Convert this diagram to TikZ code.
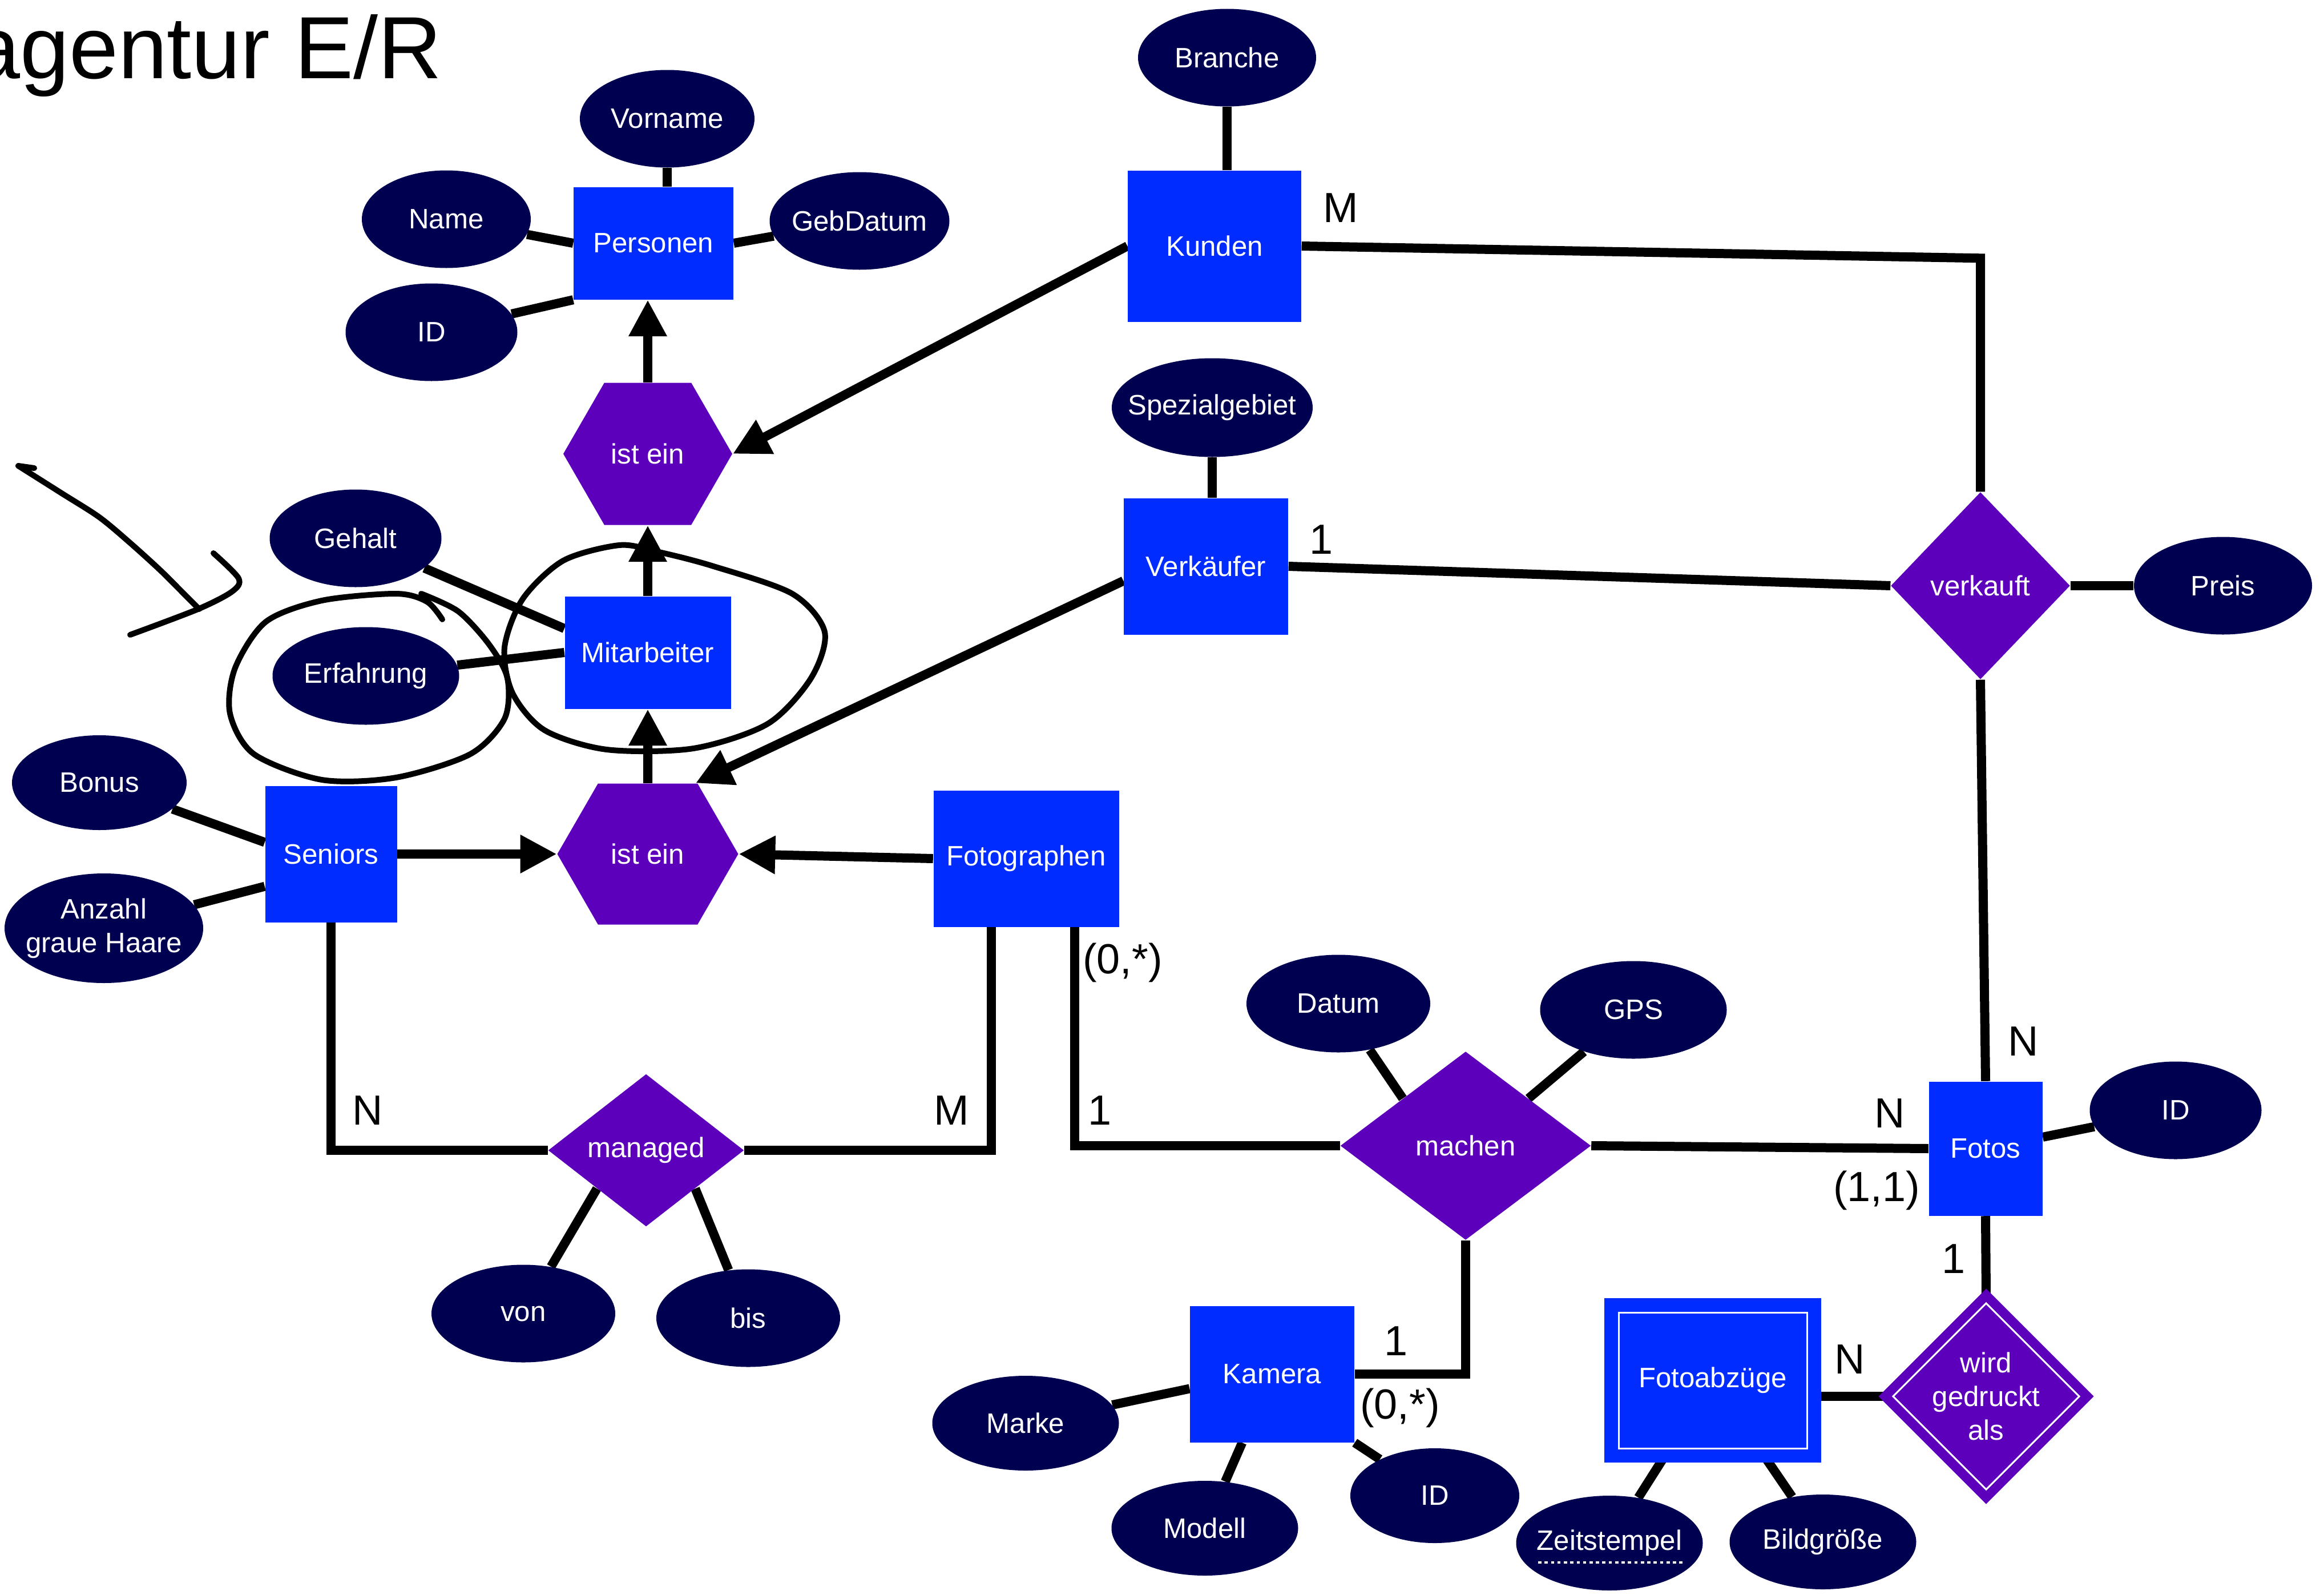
\documentclass[tikz,border=0pt]{standalone}
\usepackage{fontspec}
\setmainfont{Liberation Sans}
\usepackage{tikz}
\usetikzlibrary{shapes,arrows.meta}
\definecolor{attrnavy}{RGB}{0,0,80}
\definecolor{entblue}{RGB}{0,44,255}
\definecolor{relpurple}{RGB}{92,0,188}
\newcommand{\nodefont}{\fontsize{14}{16.8}\selectfont}
\newcommand{\cardfont}{\fontsize{21}{25}\selectfont}

\begin{document}
\begin{tikzpicture}

\pgfdeclarelayer{background}
\pgfdeclarelayer{foreground}
\pgfsetlayers{background,main,foreground}

\tikzstyle{entity} = [rectangle, fill=entblue, text=white, font=\nodefont, inner sep=0pt]
\tikzstyle{attribute} = [ellipse, fill=attrnavy, text=white, font=\nodefont, inner xsep=-0.5cm, inner ysep=0pt, minimum width=3.15cm, minimum height=1.71cm]
\tikzstyle{relation} = [diamond, fill=relpurple, text=white, font=\nodefont, inner sep=-0.15cm, align=center]
\tikzstyle{isa} = [signal, signal to=east and west, signal pointer angle=120, fill=relpurple, text=white, font=\nodefont, inner sep=0pt]
\tikzstyle{card} = [text=black, font=\cardfont, inner sep=0pt]
\tikzstyle{link} = [line width=0.16cm]
\tikzstyle{pen} = [line width=0.1cm, line cap=round, line join=round]

\tikzset{
  isa arrow/.style={link, -{Triangle[width=0.63cm,length=0.64cm]}}, % filled head
  weak/.style={double=white, double distance=0.85pt, line width=#1}, % inner white border
}

\coordinate (anchor) at (0,0);
\useasboundingbox (anchor) rectangle +(40.72,-27.94);

\path (anchor)+(7.75,-1.37) node (title) [anchor=base east, inner sep=0pt, font=\fontsize{44}{50}\selectfont] {agentur E/R};

%Personen: top middle

\path (anchor)+(11.45,-4.26) node (personen) [entity, minimum width=2.80cm, minimum height=1.97cm] {Personen};
\path (personen)+(0.24,2.18) node (vorname) [attribute, minimum width=3.06cm] {Vorname};
\path (personen)+(-3.63,0.42) node (name) [attribute, minimum width=2.96cm] {Name};
\path (personen)+(3.61,0.39) node (gebdatum) [attribute] {GebDatum};
\path (personen)+(-3.89,-1.56) node (id_personen) [attribute, minimum width=3.01cm] {ID};

\path (personen)+(-0.10,-3.69) node (ist_ein_top) [isa, minimum width=2.96cm, minimum height=2.49cm] {ist ein};

%Mitarbeiter: middle left

\path (ist_ein_top)+(0,-3.48) node (mitarbeiter) [entity, minimum width=2.91cm, minimum height=1.97cm] {Mitarbeiter};
\path (mitarbeiter)+(-5.12,2.00) node (gehalt) [attribute, minimum width=3.01cm] {Gehalt};
\path (mitarbeiter)+(-4.94,-0.41) node (erfahrung) [attribute, minimum width=3.27cm] {Erfahrung};

\path (mitarbeiter)+(0,-3.53) node (ist_ein_bottom) [isa, minimum width=3.17cm, minimum height=2.47cm] {ist ein};

%Seniors and Fotographen

\path (ist_ein_bottom)+(-5.55,0) node (seniors) [entity, minimum width=2.31cm, minimum height=2.39cm] {Seniors};
\path (seniors)+(-4.06,1.25) node (bonus) [attribute, minimum width=3.06cm, minimum height=1.66cm] {Bonus};
\path (seniors)+(-3.98,-1.30) node (anzahl) [attribute, minimum width=3.48cm, minimum height=1.92cm, align=center] {Anzahl\\graue Haare};

\path (ist_ein_bottom)+(6.63,-0.08) node (fotographen) [entity, minimum width=3.25cm, minimum height=2.39cm] {Fotographen};

\path (ist_ein_bottom)+(-0.03,-5.19) node (managed) [relation, minimum width=3.43cm, minimum height=2.67cm] {managed};
\path (managed)+(-2.15,-2.86) node (von) [attribute, minimum width=3.22cm] {von};
\path (managed)+(1.79,-2.94) node (bis) [attribute, minimum width=3.22cm] {bis};

%Kunden and Verkaeufer: top right

\path (personen)+(9.83,-0.05) node (kunden) [entity, minimum width=3.04cm, minimum height=2.65cm] {Kunden};
\path (kunden)+(0.22,3.30) node (branche) [attribute, minimum width=3.12cm] {Branche};

\path (kunden)+(-0.15,-5.61) node (verkaeufer) [entity, minimum width=2.88cm, minimum height=2.39cm] {Verkäufer};
\path (verkaeufer)+(0.11,2.78) node (spezialgebiet) [attribute, minimum width=3.52cm, minimum height=1.73cm] {Spezialgebiet};

\path (verkaeufer)+(13.57,-0.34) node (verkauft) [relation, minimum width=3.14cm, minimum height=3.28cm] {verkauft};
\path (verkauft)+(4.25,0) node (preis) [attribute, minimum width=3.12cm] {Preis};

%Fotos: bottom right

\path (verkauft)+(0.09,-9.86) node (fotos) [entity, minimum width=1.99cm, minimum height=2.35cm] {Fotos};
\path (fotos)+(3.33,0.67) node (id_fotos) [attribute, minimum width=3.01cm] {ID};

\path (fotos)+(-9.11,0.05) node (machen) [relation, minimum width=4.39cm, minimum height=3.30cm] {machen};
\path (machen)+(-2.23,2.49) node (datum) [attribute, minimum width=3.22cm] {Datum};
\path (machen)+(2.94,2.38) node (gps) [attribute, minimum width=3.27cm] {GPS};

\path (machen)+(-3.39,-4.00) node (kamera) [entity, minimum width=2.88cm, minimum height=2.39cm] {Kamera};
\path (kamera)+(-4.32,-0.86) node (marke) [attribute, minimum width=3.27cm, minimum height=1.66cm] {Marke};
\path (kamera)+(-1.18,-2.70) node (modell) [attribute, minimum width=3.27cm, minimum height=1.66cm] {Modell};
\path (kamera)+(2.85,-2.13) node (id_kamera) [attribute, minimum width=2.96cm, minimum height=1.66cm] {ID};

\path (fotos)+(0.01,-4.34) node (wird) [relation, draw=relpurple, weak=0.165cm, minimum width=3.33cm, minimum height=3.33cm, inner sep=-0.25cm] {wird\\gedruckt\\als};
\path (wird)+(-4.79,0.28) node (fotoabzuege) [entity, draw=entblue, weak=0.235cm, minimum width=3.30cm, minimum height=2.38cm] {Fotoabzüge};
\path (fotoabzuege)+(-1.81,-2.85) node (zeitstempel) [attribute, minimum width=3.27cm, minimum height=1.66cm] {Zeitstempel};
\path (fotoabzuege)+(1.93,-2.83) node (bildgroesse) [attribute, minimum width=3.27cm, minimum height=1.66cm] {Bildgröße};

%Cardinalities

\path (kunden)+(2.21,0.67) node (card_kunden) [card] {M};
\path (verkaeufer)+(2.02,0.47) node (card_verkaeufer) [card] {1};
\path (seniors)+(0.64,-4.49) node (card_seniors) [card] {N};
\path (fotographen)+(-1.31,-4.41) node (card_fg_managed) [card] {M};
\path (fotographen)+(1.69,-1.82) node (card_fg_min) [card] {(0,*)};
\path (fotographen)+(1.29,-4.41) node (card_fg_machen) [card] {1};
\path (fotos)+(-1.68,0.62) node (card_fotos_machen) [card] {N};
\path (fotos)+(-1.91,-0.73) node (card_fotos_min) [card] {(1,1)};
\path (fotos)+(0.66,1.88) node (card_fotos_verkauft) [card] {N};
\path (fotos)+(-0.56,-1.93) node (card_fotos_wird) [card] {1};
\path (kamera)+(2.17,0.58) node (card_kamera) [card] {1};
\path (kamera)+(2.24,-0.59) node (card_kamera_min) [card] {(0,*)};
\path (fotoabzuege)+(2.40,0.37) node (card_fotoabzuege) [card] {N};

\begin{pgfonlayer}{background}

%Attribute lines

\draw[link] (vorname) -- (vorname |- personen.north);
\draw[link] (name) -- (personen.west);
\draw[link] (gebdatum) -- (personen.east);
\draw[link] (id_personen) -- (personen.south west);
\draw[link] (branche) -- (branche |- kunden.north);
\draw[link] (spezialgebiet) -- (spezialgebiet |- verkaeufer.north);
\draw[link] (gehalt) -- (mitarbeiter.164);
\draw[link] (erfahrung) -- (mitarbeiter.west);
\draw[link] (bonus) -- (seniors.170);
\draw[link] (anzahl) -- (seniors.206);
\draw[link] (von) -- (managed.south west);
\draw[link] (bis) -- (managed.south east);
\draw[link] (datum) -- (machen.north west);
\draw[link] (gps) -- (machen.north east);
\draw[link] (preis) -- (verkauft.east);
\draw[link] (id_fotos) -- (fotos);
\draw[link] (marke) -- (kamera.190);
\draw[link] (modell) -- (kamera);
\draw[link] (id_kamera) -- (kamera.south east);
\draw[link] (zeitstempel) -- (fotoabzuege);
\draw[link] (bildgroesse) -- (fotoabzuege);

%Relationship lines

\draw[link] (seniors.south) |- (managed.west);
\path (fotographen.south)+(-0.61,0) coordinate (fg_managed);
\draw[link] (fg_managed) |- (managed.east);
\path (fotographen.south)+(0.85,0) coordinate (fg_machen);
\draw[link] (fg_machen) |- (machen.west);
\draw[link] (machen.east) -- (fotos.west);
\draw[link] (machen.south) |- (kamera.east);
\path (verkauft.north)+(0,4.09) coordinate (kunden_corner);
\draw[link] (kunden.east) -- (kunden_corner) -- (verkauft.north);
\draw[link] (verkaeufer.east) -- (verkauft.west);
\draw[link] (verkauft.south) -- (fotos.north);
\draw[link] (fotos.south) -- (wird.north);
\draw[link] (wird.west -| fotoabzuege.east) -- (wird.west);

%Arrows

\draw[isa arrow] (ist_ein_top.90) -- (ist_ein_top.90 |- personen.south);
\draw[isa arrow] (kunden.west) -- (ist_ein_top.0);
\draw[isa arrow] (mitarbeiter.north) -- (ist_ein_top.270);
\draw[isa arrow] (ist_ein_bottom.90) -- (mitarbeiter.south);
\draw[isa arrow] (verkaeufer.190) -- (ist_ein_bottom.56);
\draw[isa arrow] (seniors.east) -- (ist_ein_bottom.180);
\draw[isa arrow] (fotographen.west) -- (ist_ein_bottom.0);

\end{pgfonlayer}

\begin{pgfonlayer}{foreground}

%Key underline

\path (zeitstempel)+(-1.25,-0.34) coordinate (key_a);
\path (zeitstempel)+(1.30,-0.34) coordinate (key_b);
\draw[white, line width=1.2pt, dash pattern=on 1.6pt off 1.6pt] (key_a) -- (key_b);

%Hand drawn marks

\draw[pen] (0.60,-8.20) -- (0.32,-8.16) plot[smooth] coordinates {(0.32,-8.16) (1.08,-8.64) (1.74,-9.06) (2.28,-9.51) (2.82,-10.00) (3.25,-10.43) (3.49,-10.67)};
\draw[pen] plot[smooth] coordinates {(3.74,-9.69) (4.18,-10.13) (4.07,-10.36) (3.47,-10.67) (2.28,-11.12)};
\draw[pen] plot[smooth] coordinates {(7.38,-10.40) (8.03,-10.71) (8.57,-11.29) (8.89,-11.88) (8.84,-12.59) (8.24,-13.21) (6.94,-13.62) (5.64,-13.66) (4.45,-13.21) (4.03,-12.50) (4.12,-11.70) (4.66,-10.89) (5.64,-10.52) (6.94,-10.40) (7.48,-10.54) (7.75,-10.85)};
\draw[pen] plot[smooth cycle] coordinates {(10.85,-9.55) (11.50,-9.66) (12.47,-9.91) (13.88,-10.40) (14.45,-11.07) (14.21,-11.88) (13.45,-12.68) (12.15,-13.11) (10.63,-13.13) (9.54,-12.79) (8.98,-12.14) (8.84,-11.34) (9.16,-10.49) (9.87,-9.82)};

\end{pgfonlayer}

\end{tikzpicture}
\end{document}
